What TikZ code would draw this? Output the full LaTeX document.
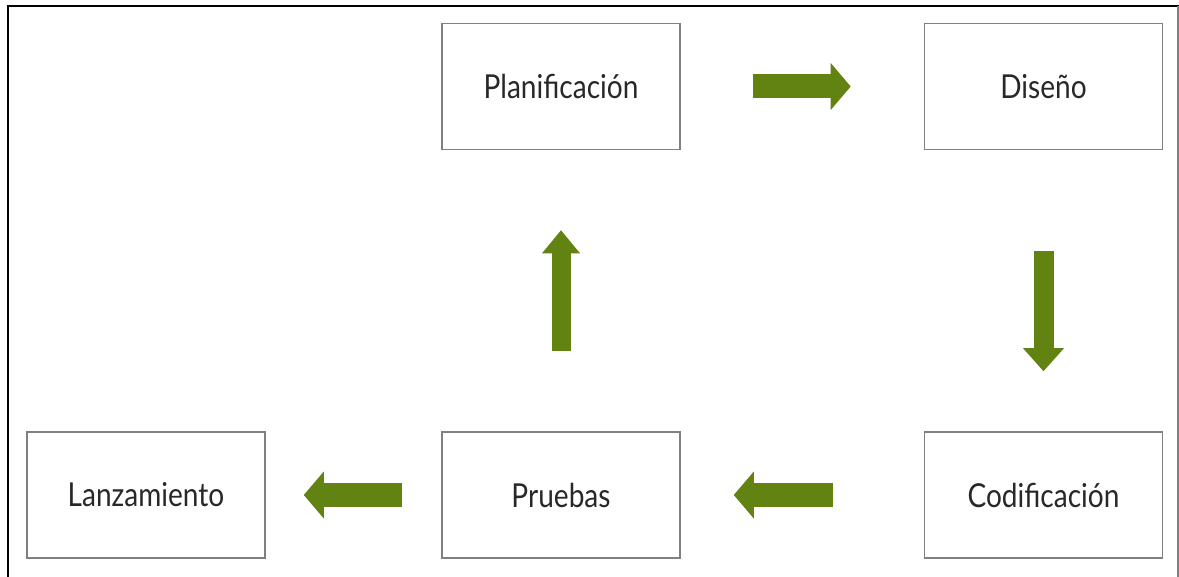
\documentclass[tikz,border=0pt]{standalone}
\usepackage{fontspec}
\setmainfont{Lato}
\newfontfamily\stagefont[FakeStretch=0.85]{Lato}
\usetikzlibrary{arrows.meta}
\definecolor{arrowgreen}{RGB}{98,130,18}
\definecolor{boxgray}{RGB}{128,128,128}
\definecolor{textgray}{RGB}{40,40,40}
\tikzset{
  stagebox/.style={draw=boxgray, line width=1.6pt, fill=white, minimum width=238pt, minimum height=126pt, inner sep=0pt, text=textgray, font=\stagefont\fontsize{33}{36}\selectfont},
  flowwide/.style={arrowgreen, line width=24pt, -{Triangle[length=20pt, width=47pt, line width=0pt]}},
  flownarrow/.style={arrowgreen, line width=20pt, -{Triangle[length=23pt, width=41pt, line width=0pt]}}
}
\begin{document}
\begin{tikzpicture}[x=1pt,y=-1pt]
\useasboundingbox (0,0) rectangle (1179,577);
\fill[white] (0,0) rectangle (1179,577);
% outer frame
\coordinate (frameTL) at (8,6);
\coordinate (frameTR) at (1179,6);
\coordinate (frameBL) at (8,577);
\coordinate (frameRT) at (1178,6);
\coordinate (frameRB) at (1178,577);
\draw[black, line width=2.6pt] (frameBL) -- (frameTL) -- (frameTR);
\draw[boxgray, line width=1.4pt] (frameRT) -- (frameRB);
% stages
\node[stagebox] (plan) at (561,86.5) {Planificación};
\node[stagebox] (dis) at (1043.5,86.5) {Diseño};
\node[stagebox] (cod) at (1043.5,495) {Codificación};
\node[stagebox] (prue) at (561,495) {Pruebas};
\node[stagebox] (lanz) at (146,495) {Lanzamiento};
% arrows
\draw[flowwide] ([xshift=72pt]plan.east) -- ([xshift=-73pt]dis.west);
\draw[flownarrow] ([yshift=-101pt]dis.south) -- ([yshift=60pt]cod.north);
\draw[flowwide] ([xshift=-91pt]cod.west) -- ([xshift=53pt]prue.east);
\draw[flowwide] ([xshift=-39pt]prue.west) -- ([xshift=38pt]lanz.east);
\draw[arrowgreen, line width=19pt, -{Triangle[length=23pt, width=38pt, line width=0pt]}] ([yshift=80pt]prue.north) -- ([yshift=-80pt]plan.south);
\end{tikzpicture}
\end{document}
